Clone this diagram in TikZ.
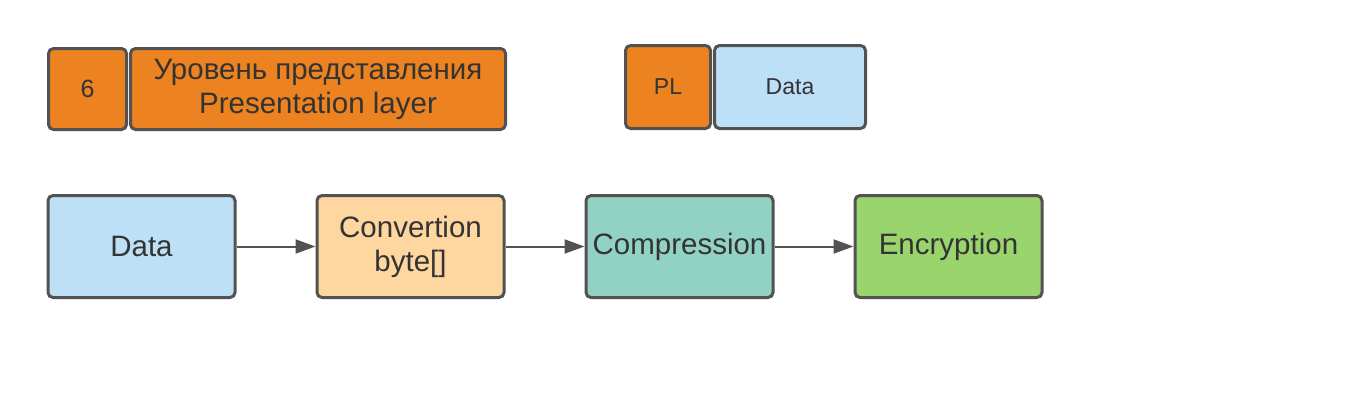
\documentclass[tikz,border=0pt]{standalone}
\usepackage{fontspec}
\setmainfont{Liberation Sans}
\usetikzlibrary{arrows.meta, positioning}

\definecolor{edgegray}{RGB}{82,82,82}
\definecolor{textgray}{RGB}{51,51,51}
\definecolor{layerorange}{RGB}{236,130,32}
\definecolor{datablue}{RGB}{190,224,246}
\definecolor{convpeach}{RGB}{254,214,160}
\definecolor{compteal}{RGB}{146,210,196}
\definecolor{encgreen}{RGB}{153,212,108}

\begin{document}
\begin{tikzpicture}[
      x=1pt, y=-1pt,
      node distance=79pt,
      box/.style={draw=edgegray, line width=3pt, rounded corners=5pt,
                  align=center, minimum width=187pt, minimum height=102pt,
                  inner sep=2pt, text=textgray,
                  font=\fontsize{29.5}{34}\selectfont},
      tag/.style={box, minimum height=81pt},
      small/.style={font=\fontsize{23}{28}\selectfont},
      >={Triangle[length=20pt, width=14pt]},
      link/.style={->, draw=edgegray, line width=2pt}
    ]
    \useasboundingbox (0,0) rectangle (1368,400);

    % layer header
    \node[tag, fill=layerorange, minimum width=78pt, font=\fontsize{25}{30}\selectfont] (num) at (87.5,89) {6};
    \node[tag, fill=layerorange, minimum width=375pt, right=1pt of num] (layer)
         {Уровень представления\\Presentation layer};

    % packet
    \node[tag, small, fill=layerorange, minimum width=85pt, minimum height=83pt] (pl) at (668,87) {PL};
    \node[tag, small, fill=datablue, minimum width=151pt, minimum height=83pt, right=1pt of pl] (payload) {Data};

    % processing chain
    \node[box, fill=datablue] (data) at (141.5,246.5) {Data};
    \node[box, fill=convpeach, right=of data] (conv) {Convertion\\byte[]};
    \node[box, fill=compteal, right=of conv] (comp) {Compression};
    \node[box, fill=encgreen, right=of comp] (enc) {Encryption};

    \draw[link] (data) -- (conv);
    \draw[link] (conv) -- (comp);
    \draw[link] (comp) -- (enc);
  \end{tikzpicture}
\end{document}
